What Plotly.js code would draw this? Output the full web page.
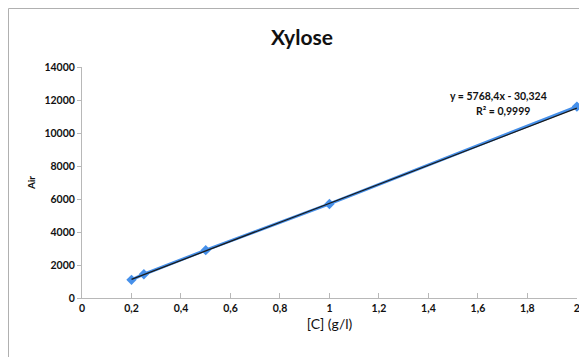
<!DOCTYPE html>
<html>
<head>
<meta charset="utf-8">
<script src="https://cdn.plot.ly/plotly-3.0.1.min.js"></script>
<style>html,body{margin:0;padding:0;background:#fff;}#chart{width:579px;height:357px;}</style>
</head>
<body>
<div id="chart"></div>
<script>
// Data
var concentrations = [0.2, 0.25, 0.5, 1, 2];
var airValues = [1100, 1440, 2900, 5700, 11600];
var trendSlope = 5768.4;
var trendIntercept = -30.324;
var xTickVals = [0, 0.2, 0.4, 0.6, 0.8, 1, 1.2, 1.4, 1.6, 1.8, 2];
var xTickText = ['0', '0,2', '0,4', '0,6', '0,8', '1', '1,2', '1,4', '1,6', '1,8', '2'];
var yTickVals = [0, 2000, 4000, 6000, 8000, 10000, 12000, 14000];
var yTickText = ['0', '2000', '4000', '6000', '8000', '10000', '12000', '14000'];
var equationLines = ['y = 5768,4x - 30,324', 'R² = 0,9999'];

var xMin = Math.min.apply(null, concentrations);
var xMax = Math.max.apply(null, concentrations);
var trendX = [xMin, xMax];
var trendY = trendX.map(function (x) { return trendSlope * x + trendIntercept; });

var W = 579, H = 357;
var margin = {l: 82, r: 2, t: 67, b: 59};
var pw = W - margin.l - margin.r, ph = H - margin.t - margin.b;
function px2paperX(p) { return (p - margin.l) / pw; }
function px2paperY(p) { return (H - margin.b - p) / ph; }

var font = 'Lato, "Open Sans", "Liberation Sans", sans-serif';

var data = [
  {
    x: concentrations, y: airValues, type: 'scatter', mode: 'lines+markers',
    line: {color: '#4690ea', width: 3},
    marker: {symbol: 'diamond', size: 8, color: '#4690ea'},
    showlegend: false, hoverinfo: 'x+y', cliponaxis: false
  },
  {
    x: trendX, y: trendY, type: 'scatter', mode: 'lines',
    line: {color: '#1a1a1a', width: 1.3},
    showlegend: false, hoverinfo: 'skip', cliponaxis: false
  }
];

var layout = {
  width: W, height: H,
  margin: margin,
  paper_bgcolor: '#ffffff', plot_bgcolor: '#ffffff',
  separators: ', ',
  font: {family: font, color: '#222'},
  title: {
    text: '<b>Xylose</b>', x: px2paperX(302), xref: 'paper', xanchor: 'center',
    y: 1 - 38 / H, yanchor: 'middle', yref: 'container',
    font: {size: 21, family: font, color: '#111'}
  },
  xaxis: {
    range: [0, 2.0005], tickvals: xTickVals, ticktext: xTickText,
    ticklabeloverflow: 'allow',
    showgrid: false, zeroline: false, showline: true, linecolor: '#b8b8b8', linewidth: 1,
    ticks: 'inside', ticklen: 5, tickcolor: '#b8b8b8',
    tickfont: {size: 10.5, family: font, color: '#111', weight: 'bold'},
    title: {text: '[C] (g/l)', font: {size: 14, family: font, color: '#111'}, standoff: 6},
    fixedrange: true
  },
  yaxis: {
    range: [0, 14000], tickvals: yTickVals, ticktext: yTickText,
    showgrid: false, zeroline: false, showline: true, linecolor: '#b8b8b8', linewidth: 1,
    ticks: 'outside', ticklen: 4, tickcolor: '#b8b8b8',
    tickfont: {size: 10.5, family: font, color: '#111', weight: 'bold'},
    title: {text: '<b>Air</b>', font: {size: 10, family: font, color: '#111'}, standoff: 6},
    fixedrange: true
  },
  annotations: [
    {
      text: '<b>' + equationLines[0] + '</b>', xref: 'paper', yref: 'paper',
      x: px2paperX(498), y: px2paperY(96), xanchor: 'center', yanchor: 'middle',
      showarrow: false, font: {size: 10.5, family: font, color: '#111'}
    },
    {
      text: '<b>' + equationLines[1] + '</b>', xref: 'paper', yref: 'paper',
      x: px2paperX(503), y: px2paperY(111), xanchor: 'center', yanchor: 'middle',
      showarrow: false, font: {size: 10.5, family: font, color: '#111'}
    }
  ],
  shapes: [
    {
      type: 'rect', xref: 'paper', yref: 'paper',
      x0: px2paperX(8.5), x1: px2paperX(600), y0: px2paperY(380), y1: px2paperY(8.5),
      line: {color: '#b0b0b0', width: 1}, fillcolor: 'rgba(0,0,0,0)', layer: 'below'
    }
  ]
};

Plotly.newPlot('chart', data, layout, {staticPlot: true, displayModeBar: false});
</script>
</body>
</html>
